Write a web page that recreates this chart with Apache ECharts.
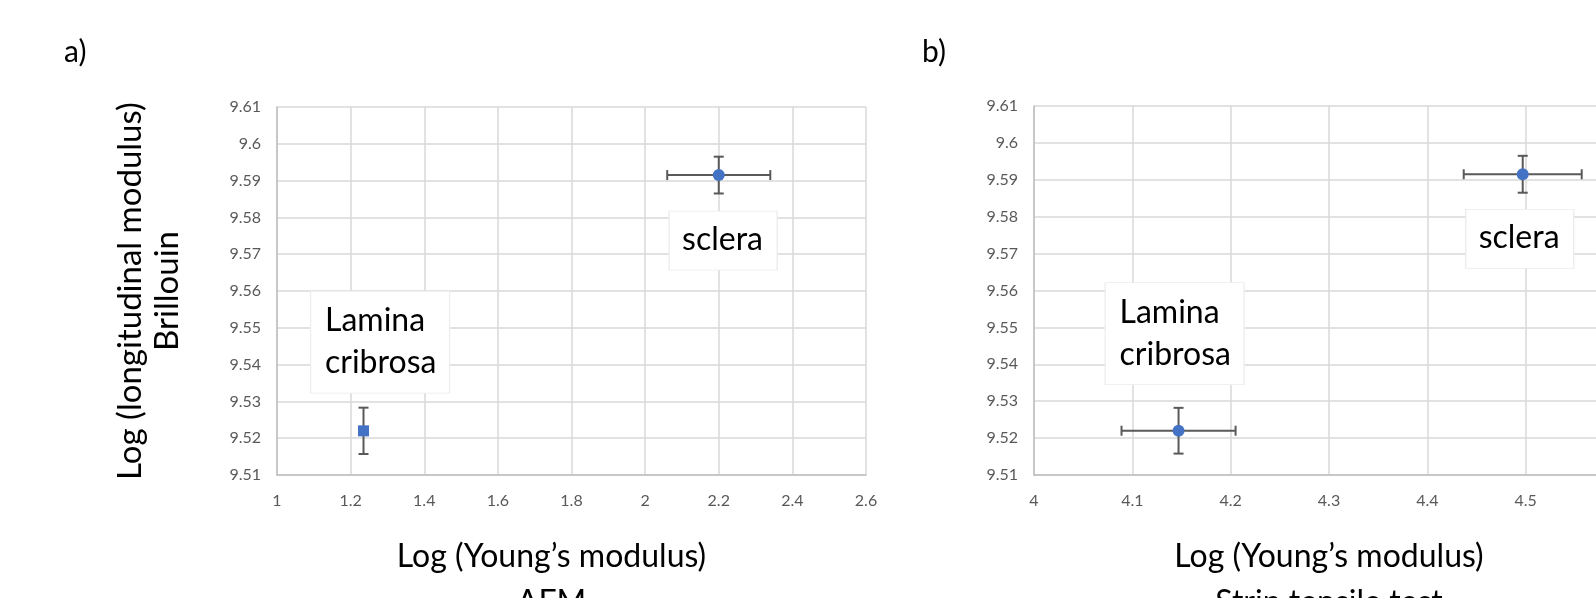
<!DOCTYPE html>
<html>
<head>
<meta charset="utf-8">
<script src="https://cdn.jsdelivr.net/npm/echarts@6/dist/echarts.min.js"></script>
<style>
  html, body { margin: 0; padding: 0; background: #fff; overflow: hidden; }
  /* the right panel runs past the window edge, as in the original figure */
  #chart { width: 1660px; height: 598px; }
</style>
</head>
<body>
<div id="chart"></div>
<script>
// tick labels
const yTicks = [9.51, 9.52, 9.53, 9.54, 9.55, 9.56, 9.57, 9.58, 9.59, 9.6, 9.61]
const afmTicks = [1, 1.2, 1.4, 1.6, 1.8, 2, 2.2, 2.4, 2.6]
const tensTicks = [4, 4.1, 4.2, 4.3, 4.4, 4.5, 4.6]

// a) AFM  [lamina cribrosa, sclera]
const tissues = ['Lamina\ncribrosa', 'sclera']
const afmX = [1.235, 2.2]
const afmY = [9.522, 9.5915]
const afmXErr = [0, 0.14]
const afmYErr = [0.0063, 0.005]
const afmNoteX = [1.28, 2.212]
const afmNoteY = [9.5461, 9.5737]

// b) strip tensile test
const tensX = [4.147, 4.497]
const tensY = [9.522, 9.5915]
const tensXErr = [0.058, 0.06]
const tensYErr = [0.0062, 0.005]
const tensNoteX = [4.143, 4.494]
const tensNoteY = [9.5483, 9.574]

const FONT = 'Lato'
const gridColor = '#d9d9d9'
const tickColor = '#595959'
const barColor = '#595959'
const dotColor = '#4472c4'

function xAxisOf(ticks, gridIndex, name, shift) {
  return {
    type: 'value',
    gridIndex: gridIndex,
    min: ticks[0],
    max: ticks[ticks.length - 1],
    interval: +(ticks[1] - ticks[0]).toFixed(3),
    name: name,
    nameLocation: 'middle',
    nameGap: 59,
    nameTextStyle: { fontFamily: FONT, fontSize: 32, color: '#000', lineHeight: 46, padding: [0, shift, 0, 0] },
    axisLine: { lineStyle: { color: '#bfbfbf', width: 1.5 } },
    axisTick: { show: false },
    axisLabel: { fontFamily: FONT, fontSize: 16, color: tickColor, margin: 18 },
    splitLine: { lineStyle: { color: gridColor, width: 1.5 } }
  }
}

function yAxisOf(gridIndex, name) {
  return {
    type: 'value',
    gridIndex: gridIndex,
    min: yTicks[0],
    max: yTicks[yTicks.length - 1],
    interval: 0.01,
    name: name,
    nameLocation: 'middle',
    nameRotate: 90,
    nameGap: 91,
    nameTextStyle: { fontFamily: FONT, fontSize: 33, color: '#000', lineHeight: 37 },
    axisLine: { show: true, lineStyle: { color: '#bfbfbf', width: 1.5 } },
    axisTick: { show: false },
    axisLabel: { fontFamily: FONT, fontSize: 16, color: tickColor, margin: 16 },
    splitLine: { lineStyle: { color: gridColor, width: 1.5 } }
  }
}

// error bars drawn through the axes
function errorSeries(idx, xs, ys, xe, ye) {
  return {
    type: 'custom',
    xAxisIndex: idx,
    yAxisIndex: idx,
    z: 3,
    data: xs.map((x, i) => [x, ys[i], xe[i], ye[i]]),
    renderItem: function (params, api) {
      const x = api.value(0), y = api.value(1)
      const dx = api.value(2), dy = api.value(3)
      const cap = 5
      const style = { stroke: barColor, lineWidth: 2 }
      const children = []
      if (dy > 0) {
        const t = api.coord([x, y + dy]), b = api.coord([x, y - dy])
        children.push({ type: 'line', shape: { x1: t[0], y1: t[1], x2: b[0], y2: b[1] }, style })
        children.push({ type: 'line', shape: { x1: t[0] - cap, y1: t[1], x2: t[0] + cap, y2: t[1] }, style })
        children.push({ type: 'line', shape: { x1: b[0] - cap, y1: b[1], x2: b[0] + cap, y2: b[1] }, style })
      }
      if (dx > 0) {
        const l = api.coord([x - dx, y]), r = api.coord([x + dx, y])
        children.push({ type: 'line', shape: { x1: l[0], y1: l[1], x2: r[0], y2: r[1] }, style })
        children.push({ type: 'line', shape: { x1: l[0], y1: l[1] - cap, x2: l[0], y2: l[1] + cap }, style })
        children.push({ type: 'line', shape: { x1: r[0], y1: r[1] - cap, x2: r[0], y2: r[1] + cap }, style })
      }
      return { type: 'group', children }
    }
  }
}

function pointSeries(idx, xs, ys, symbols) {
  return {
    type: 'scatter',
    xAxisIndex: idx,
    yAxisIndex: idx,
    z: 4,
    data: xs.map((x, i) => ({ value: [x, ys[i]], symbol: symbols[i], symbolSize: symbols[i] === 'rect' ? 11 : 12 })),
    itemStyle: { color: dotColor, opacity: 1 }
  }
}

// white text boxes with the tissue names
function noteSeries(idx, xs, ys) {
  return {
    type: 'scatter',
    xAxisIndex: idx,
    yAxisIndex: idx,
    z: 2,
    silent: true,
    data: xs.map((x, i) => ({
      value: [x, ys[i]],
      symbolSize: i === 0 ? [139, 102] : [108, 59],
      label: {
        show: true,
        formatter: tissues[i],
        position: i === 0 ? [15, 51] : [54, 29],
        align: i === 0 ? 'left' : 'center',
        verticalAlign: 'middle',
        fontFamily: FONT,
        fontSize: 32,
        lineHeight: 42,
        color: '#000'
      }
    })),
    symbol: 'rect',
    itemStyle: { color: '#fff', borderColor: '#ececec', borderWidth: 1, opacity: 1 }
  }
}

const myChart = echarts.init(document.getElementById('chart'), null, { renderer: 'canvas' })

const option = {
  animation: false,
  backgroundColor: '#fff',
  graphic: [
    { type: 'text', left: 64, top: 37, style: { text: 'a)', fontFamily: FONT, fontSize: 30, fill: '#000' } },
    { type: 'text', left: 922, top: 37, style: { text: 'b)', fontFamily: FONT, fontSize: 30, fill: '#000' } }
  ],
  grid: [
    { left: 277, top: 107, width: 589, height: 368, outerBoundsMode: 'none' },
    { left: 1034, top: 106, width: 590, height: 369, outerBoundsMode: 'none' }
  ],
  xAxis: [
    xAxisOf(afmTicks, 0, 'Log (Young\u2019s modulus)\nAFM', 40),
    xAxisOf(tensTicks, 1, 'Log (Young\u2019s modulus)\nStrip tensile test', 0)
  ],
  yAxis: [
    yAxisOf(0, 'Log (longitudinal modulus)\nBrillouin'),
    yAxisOf(1, '')
  ],
  series: [
    noteSeries(0, afmNoteX, afmNoteY),
    errorSeries(0, afmX, afmY, afmXErr, afmYErr),
    pointSeries(0, afmX, afmY, ['rect', 'circle']),
    noteSeries(1, tensNoteX, tensNoteY),
    errorSeries(1, tensX, tensY, tensXErr, tensYErr),
    pointSeries(1, tensX, tensY, ['circle', 'circle'])
  ]
}

myChart.setOption(option)

window.addEventListener('resize', () => {
  myChart.resize()
})
</script>
</body>
</html>
